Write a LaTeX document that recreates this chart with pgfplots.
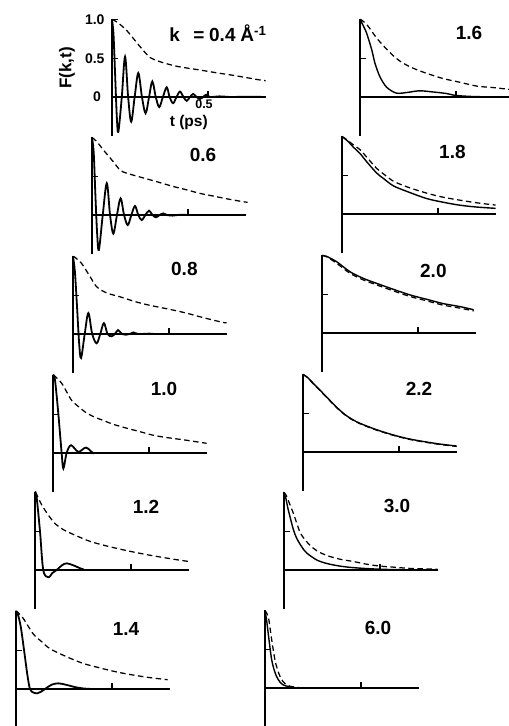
\documentclass[border=0pt]{standalone}
\usepackage{fontspec}
\setmainfont{Liberation Sans}
\usepackage{pgfplots}
\pgfplotsset{compat=1.18}
\pgfplotsset{
  panel/.style={
    anchor=origin, x=192pt, y=77.5pt,
    xmin=0, xmax=0.8, ymin=-0.5, ymax=1.0,
    axis lines=middle, axis line style={-, line width=1.1pt},
    xtick={0.5}, ytick={0.5}, xticklabels={}, yticklabels={},
    tick align=inside, major tick length=6pt,
    tick style={black, line width=1.1pt},
    clip=false,
  },
  sol/.style={black, line width=1.8pt, smooth, tension=0.55},
  sol2/.style={black, line width=1.4pt, smooth},
  das/.style={black, line width=1.25pt, dash pattern=on 5.5pt off 3.5pt, smooth},
}
\newcommand\lbl{\bfseries\fontsize{19}{19}\selectfont}
\newcommand\tkl{\bfseries\fontsize{14}{14}\selectfont}
\begin{document}
\begin{tikzpicture}
% ---------- k = 0.4 ----------
\begin{axis}[panel, at={(112pt,629pt)},
  ytick={0,0.5,1}, yticklabels={0,0.5,1.0}, xticklabels={0.5},
  yticklabel style={font=\tkl, xshift=-4pt},
  xticklabel style={font=\bfseries\fontsize{12.5}{12.5}\selectfont, yshift=1pt, xshift=-4pt},
  ylabel={F(k,t)}, xlabel={t (ps)},
  ylabel style={at={(axis description cs:-0.293,0.583)}, rotate=90, anchor=center, font=\bfseries\fontsize{17}{17}\selectfont},
  xlabel style={at={(axis cs:0.40,-0.335)}, anchor=center, font=\bfseries\fontsize{15.5}{15.5}\selectfont}]
\addplot[sol] coordinates {(0,1.0)(0.008,0.80)(0.017,0.24)(0.025,-0.25)(0.033,-0.45)(0.051,0)(0.068,0.52)(0.084,0)(0.10,-0.32)(0.118,0)(0.137,0.31)(0.156,0)(0.175,-0.21)(0.193,0)(0.21,0.20)(0.228,0)(0.246,-0.13)(0.265,0)(0.285,0.125)(0.30,0)(0.318,-0.08)(0.336,0)(0.354,0.07)(0.372,0)(0.389,-0.05)(0.406,0)(0.423,0.04)(0.44,0)(0.458,-0.025)(0.475,0)(0.49,0.03)(0.51,0)(0.56,0.008)(0.62,0)(0.7,0.004)(0.8,0)};
\addplot[das] coordinates {(0,1.0)(0.024,0.97)(0.076,0.86)(0.146,0.65)(0.198,0.51)(0.25,0.455)(0.33,0.40)(0.40,0.37)(0.458,0.348)(0.55,0.31)(0.63,0.28)(0.70,0.25)(0.77,0.22)(0.8,0.21)};
\node[font=\tkl, anchor=east] at (axis cs:-0.04,0) {0};
\node[font=\lbl] at (axis cs:0.575,0.82) {\llap{k\hspace{0.7em}=\hspace{0.25em}}0.4\rlap{\hspace{0.25em}Å\textsuperscript{-1}}};
\end{axis}
% ---------- 0.6 ----------
\begin{axis}[panel, at={(92pt,511pt)}]
\addplot[sol] coordinates {(0,1.0)(0.009,0.80)(0.018,0.24)(0.027,-0.25)(0.036,-0.45)(0.056,0)(0.077,0.41)(0.094,0)(0.111,-0.24)(0.13,0)(0.149,0.215)(0.167,0)(0.186,-0.13)(0.205,0)(0.224,0.116)(0.241,0)(0.259,-0.065)(0.278,0)(0.297,0.056)(0.315,0)(0.333,-0.03)(0.352,0)(0.371,0.02)(0.39,0)(0.42,-0.008)(0.46,0.004)(0.52,0)(0.8,0)};
\addplot[das] coordinates {(0,1.0)(0.024,0.95)(0.059,0.84)(0.11,0.69)(0.146,0.58)(0.18,0.54)(0.25,0.49)(0.337,0.43)(0.42,0.37)(0.50,0.32)(0.56,0.28)(0.63,0.245)(0.70,0.21)(0.79,0.17)(0.81,0.165)};
\node[font=\lbl] at (axis cs:0.578,0.77) {0.6};
\end{axis}
% ---------- 0.8 ----------
\begin{axis}[panel, at={(73pt,392pt)}]
\addplot[sol] coordinates {(0,1.0)(0.01,0.80)(0.021,0.35)(0.032,-0.12)(0.042,-0.31)(0.061,0)(0.08,0.27)(0.10,0)(0.123,-0.12)(0.142,0)(0.161,0.14)(0.18,0)(0.20,-0.03)(0.218,0)(0.235,0.05)(0.255,0)(0.275,-0.01)(0.295,0)(0.314,0.02)(0.34,0)(0.4,0.005)(0.45,0)(0.8,0)};
\addplot[das] coordinates {(0,1.0)(0.01,0.99)(0.045,0.91)(0.089,0.74)(0.123,0.61)(0.175,0.53)(0.245,0.48)(0.32,0.42)(0.40,0.37)(0.50,0.32)(0.59,0.27)(0.68,0.21)(0.78,0.15)(0.80,0.145)};
\node[font=\lbl] at (axis cs:0.58,0.845) {0.8};
\end{axis}
% ---------- 1.0 ----------
\begin{axis}[panel, at={(53pt,273pt)}]
\addplot[sol] coordinates {(0,1.0)(0.01,0.95)(0.028,0.5)(0.045,0)(0.054,-0.2)(0.071,0)(0.094,0.10)(0.132,0.015)(0.172,0.07)(0.21,0)(0.25,0)(0.8,0)};
\addplot[das] coordinates {(0,1.0)(0.01,0.99)(0.045,0.90)(0.071,0.79)(0.097,0.68)(0.132,0.60)(0.167,0.53)(0.21,0.47)(0.262,0.42)(0.314,0.37)(0.384,0.32)(0.453,0.275)(0.52,0.23)(0.59,0.20)(0.68,0.17)(0.80,0.125)};
\node[font=\lbl] at (axis cs:0.578,0.83) {1.0};
\end{axis}
% ---------- 1.2 ----------
\begin{axis}[panel, at={(35pt,156pt)}]
\addplot[sol] coordinates {(0,1.0)(0.008,0.95)(0.026,0.5)(0.043,0)(0.069,-0.094)(0.09,-0.04)(0.113,0)(0.14,0.06)(0.165,0.086)(0.20,0.06)(0.25,0.01)(0.30,0)(0.8,0)};
\addplot[das] coordinates {(0,1.0)(0.009,0.97)(0.035,0.84)(0.069,0.71)(0.104,0.60)(0.148,0.52)(0.208,0.45)(0.286,0.37)(0.373,0.31)(0.478,0.25)(0.60,0.19)(0.72,0.14)(0.80,0.11)};
\node[font=\lbl] at (axis cs:0.578,0.82) {1.2};
\end{axis}
% ---------- 1.4 ----------
\begin{axis}[panel, at={(16pt,37pt)}]
\addplot[sol] coordinates {(0,1.0)(0.01,0.96)(0.025,0.8)(0.042,0.5)(0.06,0.17)(0.073,0)(0.09,-0.045)(0.111,-0.056)(0.13,-0.035)(0.151,0)(0.185,0.055)(0.22,0.073)(0.26,0.055)(0.316,0.02)(0.37,0.003)(0.45,0)(0.8,0)};
\addplot[das] coordinates {(0,1.0)(0.005,1.0)(0.038,0.91)(0.09,0.71)(0.134,0.61)(0.177,0.52)(0.26,0.42)(0.35,0.33)(0.44,0.27)(0.524,0.22)(0.61,0.18)(0.70,0.146)(0.79,0.12)};
\node[font=\lbl] at (axis cs:0.573,0.78) {1.4};
\end{axis}
% ---------- 1.6 ----------
\begin{axis}[panel, at={(360pt,629pt)}]
\addplot[sol2] coordinates {(0,1.0)(0.015,0.93)(0.035,0.82)(0.061,0.61)(0.078,0.435)(0.104,0.26)(0.139,0.125)(0.19,0.05)(0.25,0.06)(0.31,0.08)(0.38,0.065)(0.45,0.045)(0.50,0.02)(0.6,0.005)(0.8,0)};
\addplot[das] coordinates {(0,1.0)(0.01,0.99)(0.04,0.92)(0.087,0.76)(0.13,0.64)(0.17,0.54)(0.21,0.46)(0.26,0.39)(0.33,0.32)(0.43,0.24)(0.52,0.19)(0.61,0.14)(0.70,0.12)(0.77,0.10)(0.8,0.09)};
\node[font=\lbl] at (axis cs:0.568,0.82) {1.6};
\end{axis}
% ---------- 1.8 ----------
\begin{axis}[panel, at={(342pt,512pt)}]
\addplot[sol2] coordinates {(0,1.0)(0.03,0.94)(0.06,0.86)(0.094,0.78)(0.13,0.67)(0.18,0.53)(0.22,0.45)(0.27,0.36)(0.35,0.28)(0.44,0.20)(0.52,0.155)(0.61,0.115)(0.70,0.09)(0.80,0.073)};
\addplot[das] coordinates {(0,1.0)(0.03,0.95)(0.06,0.89)(0.094,0.83)(0.13,0.73)(0.18,0.59)(0.22,0.51)(0.27,0.42)(0.35,0.34)(0.44,0.27)(0.52,0.22)(0.61,0.18)(0.70,0.145)(0.80,0.115)};
\node[font=\lbl] at (axis cs:0.575,0.80) {1.8};
\end{axis}
% ---------- 2.0 ----------
\begin{axis}[panel, at={(322pt,393pt)}]
\addplot[sol2] coordinates {(0,1.0)(0.023,0.99)(0.076,0.92)(0.146,0.79)(0.215,0.705)(0.285,0.64)(0.37,0.565)(0.46,0.49)(0.545,0.435)(0.63,0.38)(0.72,0.34)(0.79,0.30)};
\addplot[das] coordinates {(0,1.0)(0.023,0.985)(0.076,0.90)(0.146,0.77)(0.215,0.685)(0.285,0.62)(0.37,0.545)(0.46,0.47)(0.545,0.415)(0.63,0.36)(0.72,0.32)(0.79,0.285)};
\node[font=\lbl] at (axis cs:0.58,0.80) {2.0};
\end{axis}
% ---------- 2.2 ----------
\begin{axis}[panel, at={(303pt,274pt)}]
\addplot[sol2] coordinates {(0,1.0)(0.02,0.97)(0.06,0.87)(0.123,0.71)(0.17,0.59)(0.21,0.50)(0.25,0.43)(0.297,0.37)(0.38,0.29)(0.47,0.22)(0.55,0.17)(0.64,0.13)(0.72,0.10)(0.80,0.077)};
\addplot[das] coordinates {(0,1.0)(0.02,0.965)(0.06,0.865)(0.123,0.705)(0.17,0.585)(0.21,0.495)(0.25,0.425)(0.297,0.365)(0.38,0.285)(0.47,0.215)(0.55,0.165)(0.64,0.125)(0.72,0.095)(0.80,0.072)};
\node[font=\lbl] at (axis cs:0.604,0.82) {2.2};
\end{axis}
% ---------- 3.0 ----------
\begin{axis}[panel, at={(284pt,156pt)}]
\addplot[sol2] coordinates {(0,1.0)(0.01,0.92)(0.02,0.80)(0.031,0.69)(0.049,0.52)(0.066,0.41)(0.092,0.30)(0.118,0.22)(0.17,0.13)(0.22,0.086)(0.28,0.055)(0.34,0.035)(0.42,0.02)(0.5,0.01)(0.6,0.004)(0.8,0)};
\addplot[das] coordinates {(0,1.0)(0.01,0.97)(0.025,0.88)(0.049,0.73)(0.083,0.49)(0.11,0.39)(0.135,0.32)(0.17,0.25)(0.22,0.19)(0.29,0.14)(0.36,0.11)(0.43,0.075)(0.5,0.05)(0.58,0.035)(0.66,0.02)(0.8,0.01)};
\node[font=\lbl] at (axis cs:0.589,0.82) {3.0};
\end{axis}
% ---------- 6.0 ----------
\begin{axis}[panel, at={(265pt,38pt)}]
\addplot[sol2] coordinates {(0,1.0)(0.008,0.88)(0.017,0.70)(0.026,0.52)(0.035,0.36)(0.047,0.24)(0.06,0.15)(0.077,0.08)(0.095,0.04)(0.12,0.02)(0.15,0.01)(0.2,0)(0.8,0)};
\addplot[das] coordinates {(0,1.0)(0.01,0.96)(0.02,0.88)(0.035,0.62)(0.052,0.36)(0.065,0.24)(0.078,0.15)(0.095,0.08)(0.113,0.04)(0.135,0.02)(0.16,0.01)(0.2,0)};
\node[font=\lbl] at (axis cs:0.589,0.77) {6.0};
\end{axis}
\pgfresetboundingbox
\useasboundingbox (0,0) rectangle (509pt,726pt);
\end{tikzpicture}
\end{document}
